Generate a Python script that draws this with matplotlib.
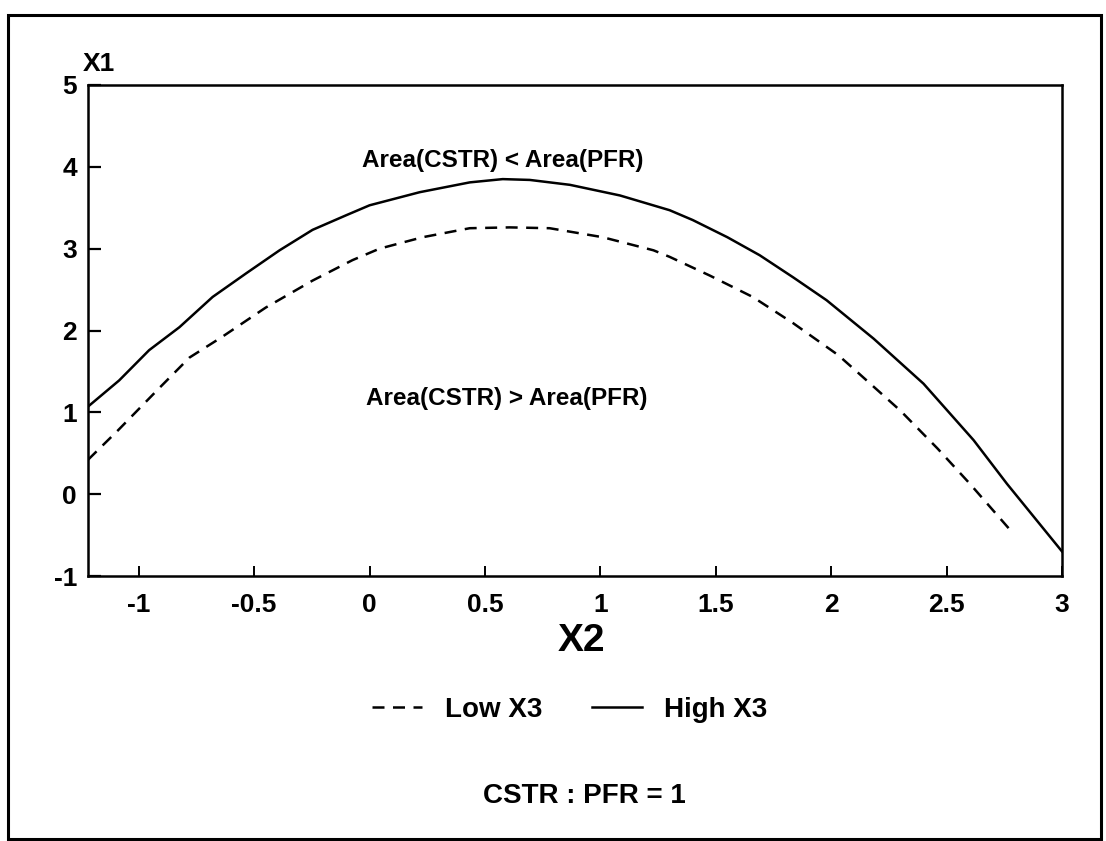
import matplotlib.pyplot as plt
from matplotlib.patches import Rectangle

plt.rcParams['font.family'] = ['Liberation Sans', 'DejaVu Sans']
plt.rcParams['font.weight'] = 'bold'
plt.rcParams['axes.unicode_minus'] = False

# curves (X2, X1)
x_high = [-1.22, -1.085, -0.955, -0.824, -0.68, -0.534, -0.39, -0.247, -0.10, 0.0,
          0.217, 0.434, 0.577, 0.694, 0.868, 1.085, 1.30, 1.40, 1.55, 1.69,
          1.835, 1.98, 2.184, 2.40, 2.617, 2.762, 3.0]
y_high = [1.07, 1.39, 1.76, 2.04, 2.41, 2.70, 2.98, 3.23, 3.41, 3.53,
          3.69, 3.81, 3.85, 3.84, 3.78, 3.65, 3.47, 3.35, 3.14, 2.92,
          2.65, 2.37, 1.90, 1.35, 0.66, 0.125, -0.70]

x_low = [-1.22, -1.09, -0.91, -0.78, -0.64, -0.45, -0.247, -0.074, 0.043, 0.23,
         0.434, 0.607, 0.78, 1.01, 1.23, 1.30, 1.475, 1.66, 1.835, 2.03,
         2.11, 2.30, 2.46, 2.60, 2.77]
y_low = [0.42, 0.78, 1.30, 1.67, 1.92, 2.28, 2.61, 2.86, 3.00, 3.14,
         3.25, 3.26, 3.25, 3.14, 2.98, 2.90, 2.67, 2.41, 2.09, 1.70,
         1.50, 1.02, 0.56, 0.13, -0.42]

xticks = [-1, -0.5, 0, 0.5, 1, 1.5, 2, 2.5, 3]
xtick_labels = ['-1', '-0.5', '0', '0.5', '1', '1.5', '2', '2.5', '3']
yticks = [-1, 0, 1, 2, 3, 4, 5]

W, H = 1106, 841
fig = plt.figure(figsize=(W / 100, H / 100), dpi=100)
ax = fig.add_axes([88 / W, 1 - 576 / H, (1062 - 88) / W, (576 - 85) / H])

lw = 1.8
ax.plot(x_low, y_low, color='black', lw=lw, linestyle='--', dashes=(4.8, 3.4), label='Low X3')
ax.plot(x_high, y_high, color='black', lw=lw, label='High X3')

ax.set_xlim(-1.22, 3.0)
ax.set_ylim(-1, 5)
ax.set_xticks(xticks)
ax.set_xticklabels(xtick_labels)
ax.set_yticks(yticks)
for s in ax.spines.values():
    s.set_linewidth(1.8)
ax.tick_params(axis='y', direction='in', length=9, width=1.6, pad=8, labelsize=19)
ax.tick_params(axis='x', direction='in', length=7, width=1.4, pad=12, labelsize=19)

ax.text(0.577, 4.08, 'Area(CSTR) < Area(PFR)', ha='center', va='center', fontsize=17.5, fontweight='bold')
ax.text(0.594, 1.17, 'Area(CSTR) > Area(PFR)', ha='center', va='center', fontsize=17.5, fontweight='bold')

fig.text(83 / W, 1 - 71 / H, 'X1', fontsize=19, fontweight='bold', ha='left', va='baseline')
fig.text(581 / W, 1 - 641 / H, 'X2', fontsize=28, fontweight='bold', ha='center', va='center')

fig.legend(loc='center', bbox_to_anchor=(570 / W, 1 - 710 / H), ncol=2, frameon=False,
           fontsize=20, handlelength=1.8, handletextpad=0.8, columnspacing=1.8)

fig.text(584 / W, 1 - 796 / H, 'CSTR : PFR = 1', fontsize=20, fontweight='bold', ha='center', va='center')

# outer box around the whole figure
fig.patches.append(Rectangle((8 / W, 1 - 839 / H), (1101 - 8) / W, (839 - 15) / H,
                             transform=fig.transFigure, fill=False, lw=2.2, edgecolor='black'))

fig.savefig('out.png', dpi=100)
